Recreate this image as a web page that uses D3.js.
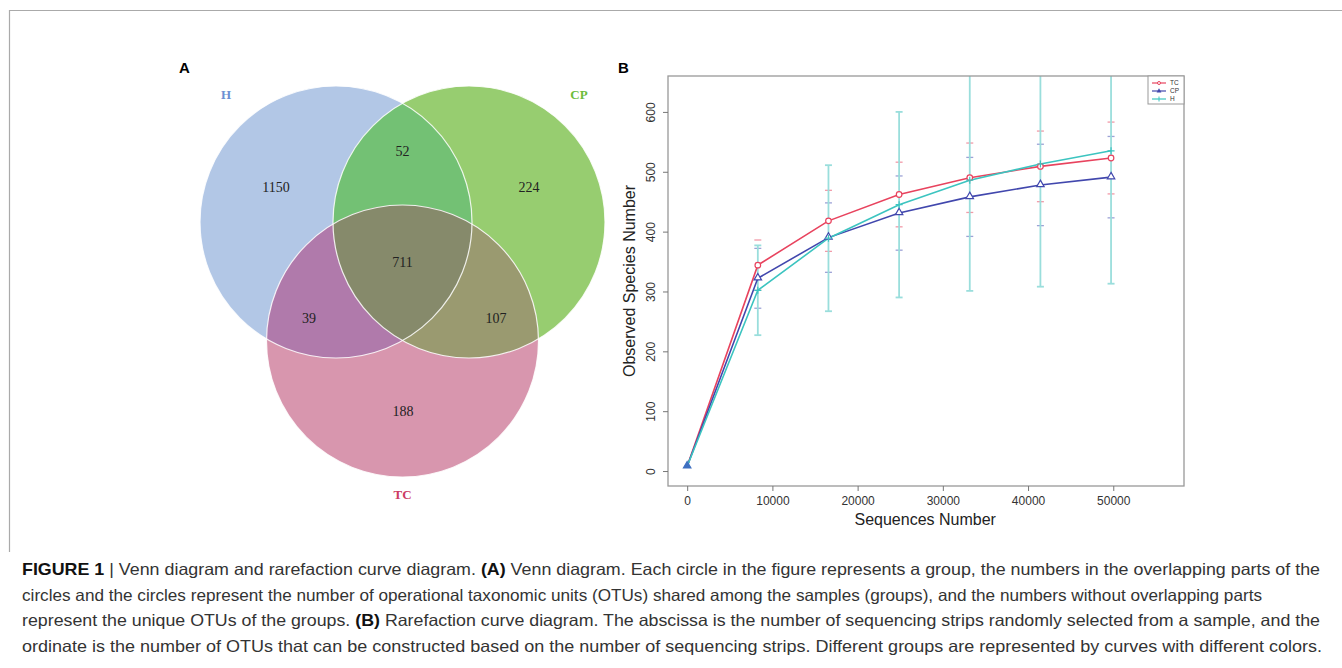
<!DOCTYPE html>
<html>
<head>
<meta charset="utf-8">
<script src="https://cdn.jsdelivr.net/npm/d3@7/dist/d3.min.js"></script>
<style>
  html, body { margin: 0; padding: 0; background: #fff; }
  svg { display: block; }
</style>
</head>
<body>
<svg id="fig" width="1342" height="668"></svg>
<script>
/* Venn data (A) */
var vennSets = ['H', 'CP', 'TC'];
var vennRegions = ['H', 'CP', 'TC', 'H&CP', 'H&TC', 'CP&TC', 'H&CP&TC'];
var vennCounts = [1150, 224, 188, 52, 39, 107, 711];

/* Rarefaction data (B) */
var seqDepth = [0, 8290, 16580, 24870, 33160, 41450, 49740];
var tcMean = [8, 344, 418, 462, 490, 509, 523];
var tcErr  = [0, 42, 51, 54, 58, 59, 60];
var cpMean = [8, 322, 390, 431, 458, 478, 491];
var cpErr  = [0, 50, 58, 62, 66, 68, 68];
var hMean  = [8, 302, 389, 445, 486, 513, 535];
var hErr   = [0, 75, 122, 155, 185, 205, 222];
var xTicks = [0, 10000, 20000, 30000, 40000, 50000];
var yTicks = [0, 100, 200, 300, 400, 500, 600];

var captionLines = [
  [['FIGURE 1', true], [' | Venn diagram and rarefaction curve diagram. ', false], ['(A)', true],
   [' Venn diagram. Each circle in the figure represents a group, the numbers in the overlapping parts of the', false]],
  [['circles and the circles represent the number of operational taxonomic units (OTUs) shared among the samples (groups), and the numbers without overlapping parts', false]],
  [['represent the unique OTUs of the groups. ', false], ['(B)', true],
   [' Rarefaction curve diagram. The abscissa is the number of sequencing strips randomly selected from a sample, and the', false]],
  [['ordinate is the number of OTUs that can be constructed based on the number of sequencing strips. Different groups are represented by curves with different colors.', false]]
];
var captionWidths = [1298, 1240, 1298, 1300];

var svg = d3.select('#fig');
svg.append('rect').attr('width', 1342).attr('height', 668).attr('fill', '#fff');

// frame
svg.append('path')
  .attr('d', 'M9.5,552 V10.5 H1342')
  .attr('fill', 'none').attr('stroke', '#aaa').attr('stroke-width', 1.2);

// panel letters
svg.append('text').attr('x', 179).attr('y', 73).text('A')
  .attr('font-family', 'Liberation Sans, Arial, sans-serif').attr('font-weight', 'bold').attr('font-size', 15);
svg.append('text').attr('x', 618).attr('y', 73).text('B')
  .attr('font-family', 'Liberation Sans, Arial, sans-serif').attr('font-weight', 'bold').attr('font-size', 15);

/* ---------- A: Venn ---------- */
var circ = {
  H:  { cx: 336, cy: 222, r: 136, fill: '#b2c7e6', label: '#6b8fd3', lx: 226, ly: 99 },
  CP: { cx: 469, cy: 222, r: 136, fill: '#97cd70', label: '#6cbc3a', lx: 579, ly: 99 },
  TC: { cx: 402.5, cy: 341, r: 136, fill: '#d896ae', label: '#cc3b62', lx: 402.5, ly: 499 }
};
var regionFill = {
  'H&CP': '#73c174', 'H&TC': '#b07aab', 'CP&TC': '#9a9a70', 'H&CP&TC': '#868a6b'
};
var regionPos = {
  'H': [276, 187], 'CP': [529, 187], 'TC': [403, 411],
  'H&CP': [402.5, 151], 'H&TC': [309, 318], 'CP&TC': [496, 318], 'H&CP&TC': [402.5, 262]
};

var venn = svg.append('g');
var defs = svg.append('defs');
vennSets.forEach(function(s) {
  defs.append('clipPath').attr('id', 'clip-' + s)
    .append('circle').attr('cx', circ[s].cx).attr('cy', circ[s].cy).attr('r', circ[s].r);
});

vennSets.forEach(function(s) {
  venn.append('circle').attr('cx', circ[s].cx).attr('cy', circ[s].cy).attr('r', circ[s].r)
    .attr('fill', circ[s].fill);
});
// pairwise overlaps
[['H', 'CP'], ['H', 'TC'], ['CP', 'TC']].forEach(function(p) {
  venn.append('circle').attr('cx', circ[p[1]].cx).attr('cy', circ[p[1]].cy).attr('r', circ[p[1]].r)
    .attr('clip-path', 'url(#clip-' + p[0] + ')')
    .attr('fill', regionFill[p[0] + '&' + p[1]]);
});
// triple overlap
venn.append('g').attr('clip-path', 'url(#clip-H)')
  .append('g').attr('clip-path', 'url(#clip-CP)')
  .append('circle').attr('cx', circ.TC.cx).attr('cy', circ.TC.cy).attr('r', circ.TC.r)
  .attr('fill', regionFill['H&CP&TC']);
// white outlines
vennSets.forEach(function(s) {
  venn.append('circle').attr('cx', circ[s].cx).attr('cy', circ[s].cy).attr('r', circ[s].r)
    .attr('fill', 'none').attr('stroke', '#fff').attr('stroke-width', 1.2).attr('stroke-opacity', 0.85);
});

venn.selectAll('text.count')
  .data(vennRegions)
  .enter().append('text')
  .attr('class', 'count')
  .attr('x', function(d) { return regionPos[d][0]; })
  .attr('y', function(d) { return regionPos[d][1]; })
  .attr('dy', '0.35em')
  .attr('text-anchor', 'middle')
  .attr('font-family', 'Liberation Serif, DejaVu Serif, serif')
  .attr('font-size', 14)
  .attr('fill', '#222')
  .text(function(d, i) { return vennCounts[i]; });

venn.selectAll('text.setname')
  .data(vennSets)
  .enter().append('text')
  .attr('class', 'setname')
  .attr('x', function(d) { return circ[d].lx; })
  .attr('y', function(d) { return circ[d].ly; })
  .attr('text-anchor', 'middle')
  .attr('font-family', 'Liberation Serif, DejaVu Serif, serif')
  .attr('font-weight', 'bold')
  .attr('font-size', 13)
  .attr('fill', function(d) { return circ[d].label; })
  .text(function(d) { return d; });

/* ---------- B: rarefaction ---------- */
var box = { left: 668, right: 1184, top: 76, bottom: 486 };
var x = d3.scaleLinear().domain([-2250, 58300]).range([box.left, box.right]);
var y = d3.scaleLinear().domain([-25, 660]).range([box.bottom, box.top]);

var plot = svg.append('g');
defs.append('clipPath').attr('id', 'clip-plot')
  .append('rect').attr('x', box.left).attr('y', box.top)
  .attr('width', box.right - box.left).attr('height', box.bottom - box.top);

var series = [
  { name: 'TC', mean: tcMean, err: tcErr, color: '#e8435e', errColor: '#f29aa8', marker: 'circle' },
  { name: 'CP', mean: cpMean, err: cpErr, color: '#4147ad', errColor: '#9da2d6', marker: 'triangle' },
  { name: 'H',  mean: hMean,  err: hErr,  color: '#3cc4c0', errColor: '#9adedc', marker: 'plus' }
];

var bars = plot.append('g').attr('clip-path', 'url(#clip-plot)');
series.forEach(function(s) {
  seqDepth.forEach(function(d, i) {
    if (!s.err[i]) return;
    var px = x(d), lo = y(s.mean[i] - s.err[i]), hi = y(s.mean[i] + s.err[i]);
    var g = bars.append('g').attr('stroke', s.errColor).attr('stroke-width', s.name === 'H' ? 1.8 : 1.3);
    g.append('line').attr('x1', px).attr('x2', px).attr('y1', lo).attr('y2', hi)
      .attr('stroke-opacity', s.name === 'H' ? 1 : 0);
    g.append('line').attr('x1', px - 3.5).attr('x2', px + 3.5).attr('y1', lo).attr('y2', lo);
    g.append('line').attr('x1', px - 3.5).attr('x2', px + 3.5).attr('y1', hi).attr('y2', hi);
  });
});

var line = d3.line().x(function(d) { return x(d[0]); }).y(function(d) { return y(d[1]); });

function drawMarker(g, type, px, py, color, filled) {
  if (type === 'circle') {
    g.append('circle').attr('cx', px).attr('cy', py).attr('r', 2.8)
      .attr('fill', filled ? color : '#fff').attr('stroke', color).attr('stroke-width', 1.2);
  } else if (type === 'triangle') {
    var sym = d3.symbol().type(d3.symbolTriangle).size(24);
    g.append('path').attr('d', sym()).attr('transform', 'translate(' + px + ',' + (py - 0.5) + ')')
      .attr('fill', filled ? color : '#fff').attr('stroke', color).attr('stroke-width', 1.2);
  } else {
    g.append('path').attr('d', 'M' + (px - 3.5) + ',' + py + 'H' + (px + 3.5) + 'M' + px + ',' + (py - 3.5) + 'V' + (py + 3.5))
      .attr('stroke', color).attr('stroke-width', 1.2);
  }
}

series.forEach(function(s) {
  var pts = seqDepth.map(function(d, i) { return [d, s.mean[i]]; });
  plot.append('path').attr('d', line(pts))
    .attr('fill', 'none').attr('stroke', s.color).attr('stroke-width', 1.6);
});
series.forEach(function(s) {
  var g = plot.append('g');
  seqDepth.forEach(function(d, i) {
    if (i === 0) return;
    drawMarker(g, s.marker, x(d), y(s.mean[i]), s.color, false);
  });
});
// the overlapping start point shows as a filled blue triangle
drawMarker(plot, 'triangle', x(seqDepth[0]), y(cpMean[0]), '#3e6fc0', true);

// box
plot.append('rect').attr('x', box.left).attr('y', box.top)
  .attr('width', box.right - box.left).attr('height', box.bottom - box.top)
  .attr('fill', 'none').attr('stroke', '#999').attr('stroke-width', 1.3);

// axes
var xAxis = d3.axisBottom(x).tickValues(xTicks).tickSize(5).tickSizeOuter(0).tickFormat(d3.format('d'));
var gx = plot.append('g').attr('transform', 'translate(0,' + box.bottom + ')').call(xAxis);
gx.select('.domain').remove();
gx.selectAll('line').attr('stroke', '#777');
gx.selectAll('text').attr('dy', null).attr('y', 19)
  .attr('font-family', 'Liberation Sans, Arial, sans-serif').attr('font-size', 12).attr('fill', '#333');

var yAxis = d3.axisLeft(y).tickValues(yTicks).tickSize(5).tickSizeOuter(0);
var gy = plot.append('g').attr('transform', 'translate(' + box.left + ',0)').call(yAxis);
gy.select('.domain').remove();
gy.selectAll('line').attr('stroke', '#777');
gy.selectAll('text')
  .attr('x', null).attr('dy', null)
  .attr('text-anchor', 'middle')
  .attr('transform', 'translate(-13,0) rotate(-90)')
  .attr('font-family', 'Liberation Sans, Arial, sans-serif').attr('font-size', 12).attr('fill', '#333');

plot.append('text').attr('x', (x(0) + x(50000)) / 2 + 25).attr('y', 525)
  .attr('text-anchor', 'middle')
  .attr('font-family', 'Liberation Sans, Arial, sans-serif').attr('font-size', 16).attr('fill', '#222')
  .text('Sequences Number');
plot.append('text')
  .attr('transform', 'translate(635,' + ((box.top + box.bottom) / 2) + ') rotate(-90)')
  .attr('text-anchor', 'middle')
  .attr('font-family', 'Liberation Sans, Arial, sans-serif').attr('font-size', 16).attr('fill', '#222')
  .text('Observed Species Number');

// legend
var lg = plot.append('g');
lg.append('rect').attr('x', 1148).attr('y', box.top).attr('width', box.right - 1148).attr('height', 28)
  .attr('fill', '#fff').attr('stroke', '#999').attr('stroke-width', 1);
series.forEach(function(s, i) {
  var ly = box.top + 7 + i * 8;
  lg.append('line').attr('x1', 1152).attr('x2', 1166).attr('y1', ly).attr('y2', ly)
    .attr('stroke', s.color).attr('stroke-width', 1.2);
  if (s.marker === 'circle') {
    lg.append('circle').attr('cx', 1159).attr('cy', ly).attr('r', 1.5).attr('fill', '#fff').attr('stroke', s.color);
  } else if (s.marker === 'triangle') {
    lg.append('path').attr('d', d3.symbol().type(d3.symbolTriangle).size(10)())
      .attr('transform', 'translate(1159,' + ly + ')').attr('fill', s.color);
  } else {
    lg.append('line').attr('x1', 1159).attr('x2', 1159).attr('y1', ly - 2.5).attr('y2', ly + 2.5)
      .attr('stroke', s.color);
  }
  lg.append('text').attr('x', 1170).attr('y', ly).attr('dy', '0.35em')
    .attr('font-family', 'Liberation Sans, Arial, sans-serif').attr('font-size', 6.5).attr('fill', '#333')
    .text(s.name);
});

/* ---------- caption ---------- */
var cap = svg.append('g')
  .attr('font-family', 'Liberation Sans, Arial, sans-serif')
  .attr('font-size', 16.5)
  .attr('fill', '#333');
captionLines.forEach(function(parts, i) {
  var t = cap.append('text').attr('x', 22).attr('y', 575 + i * 25.7)
    .attr('textLength', captionWidths[i]).attr('lengthAdjust', 'spacingAndGlyphs');
  parts.forEach(function(p) {
    t.append('tspan').attr('font-weight', p[1] ? 'bold' : null)
      .attr('fill', p[1] ? '#111' : null).text(p[0]);
  });
});
</script>
</body>
</html>
